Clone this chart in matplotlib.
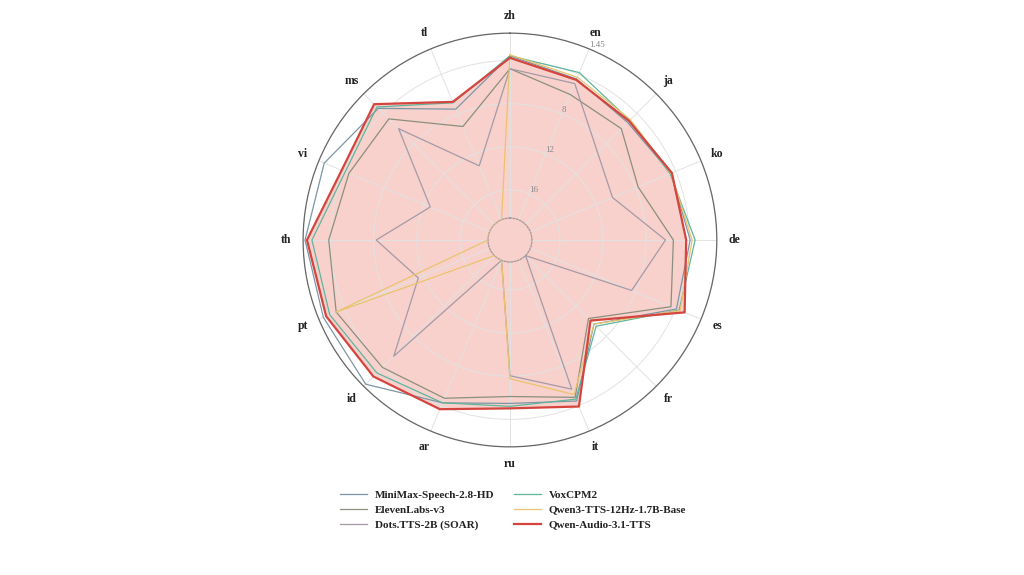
import numpy as np
import matplotlib.pyplot as plt
from matplotlib.patches import Circle

plt.rcParams['font.family'] = ['Liberation Serif', 'DejaVu Serif']

langs = ['zh', 'en', 'ja', 'ko', 'de', 'es', 'fr', 'it',
         'ru', 'ar', 'id', 'pt', 'th', 'vi', 'ms', 'tl']

# error rates (lower is better, axis inverted)
minimax = [3.55, 4.47, 5.21, 4.47, 3.92, 3.92, 9.61, 4.47, 5.48, 4.29, 1.72, 1.90, 1.63, 1.99, 3.37, 7.50]
elevenlabs = [4.75, 6.03, 6.03, 7.77, 5.48, 4.47, 10.34, 4.84, 6.12, 4.75, 3.92, 3.19, 3.83, 4.47, 4.75, 9.24]
dots = [4.75, 4.93, 9.15, 10.34, 6.21, 8.42, 18.6, 5.66, 8.05, 18.6, 5.39, 11.44, 8.23, 12.64, 6.03, 13.19]
voxcpm = [3.55, 3.83, 4.93, 4.56, 3.46, 3.65, 9.33, 4.66, 5.21, 4.29, 3.19, 2.54, 2.27, 4.10, 3.19, 6.86]
qwen3 = [3.46, 4.29, 4.84, 4.47, 3.74, 3.55, 9.61, 5.12, 7.77, 18.6, 18.6, 3.10, 18.6, 18.6, 18.6, 18.6]
qwen_audio = [3.74, 4.56, 5.02, 4.38, 4.29, 3.10, 10.07, 3.92, 5.02, 3.65, 2.73, 2.18, 1.81, 3.74, 2.82, 6.77]

names = ['MiniMax-Speech-2.8-HD', 'ElevenLabs-v3', 'Dots.TTS-2B (SOAR)',
         'VoxCPM2', 'Qwen3-TTS-12Hz-1.7B-Base', 'Qwen-Audio-3.1-TTS']
series = [minimax, elevenlabs, dots, voxcpm, qwen3, qwen_audio]
colors = ['#7d96a6', '#8b8f7e', '#a59aa6', '#5fb59c', '#e9c46e', '#d5453f']
fill_color = '#f4b3ab'

r_max, r_min = 18.6, 1.45

angles = np.linspace(0, 2 * np.pi, len(langs), endpoint=False)
closed = np.append(angles, angles[0])

fig = plt.figure(figsize=(10.24, 5.75), dpi=100)
ax = fig.add_axes([0.296, 0.2226, 0.404, 0.72], projection='polar')
ax.set_theta_zero_location('N')
ax.set_theta_direction(-1)
ax.set_ylim(r_max, r_min)
ax.set_rorigin(20.64)

# filled polygon of the best model (the centre hole is tinted too)
ax.fill(closed, np.append(qwen_audio, qwen_audio[0]), color=fill_color, alpha=0.6, zorder=1)
ax.add_patch(Circle((0.5, 0.5), 0.053, transform=ax.transAxes, color=fill_color,
                    alpha=0.6, zorder=1, clip_on=False))
for name, vals, c in zip(names, series, colors):
    lw = 1.6 if name == 'Qwen-Audio-3.1-TTS' else 0.9
    ax.plot(closed, np.append(vals, vals[0]), color=c, lw=lw, label=name,
            zorder=4 if lw > 1 else 3)

ax.set_xticks(angles)
ax.set_xticklabels(langs, fontsize=8.5, fontweight='bold', color='#222222')
ax.tick_params(axis='x', pad=2)
ax.set_yticks([1.45, 4, 8, 12, 16])
ax.set_yticklabels(['1.45', '', '8', '12', '16'], fontsize=6.5, color='#888888')
ax.set_rlabel_position(22.5)
ax.grid(color='#e2e2e2', lw=0.7)
ax.spines['polar'].set_color('#666666')
ax.spines['polar'].set_linewidth(0.9)
ax.spines['inner'].set_linestyle((0, (1.5, 1.5)))
ax.spines['inner'].set_color('#999999')
ax.spines['inner'].set_linewidth(0.8)

fig.legend(loc='upper center', bbox_to_anchor=(0.501, 0.165), ncol=2, frameon=False,
           prop={'size': 8, 'weight': 'bold'}, handlelength=2.4, columnspacing=1.8,
           handletextpad=0.7, labelspacing=0.45, labelcolor='#222222')

fig.savefig('out.png', dpi=100, facecolor='white')
